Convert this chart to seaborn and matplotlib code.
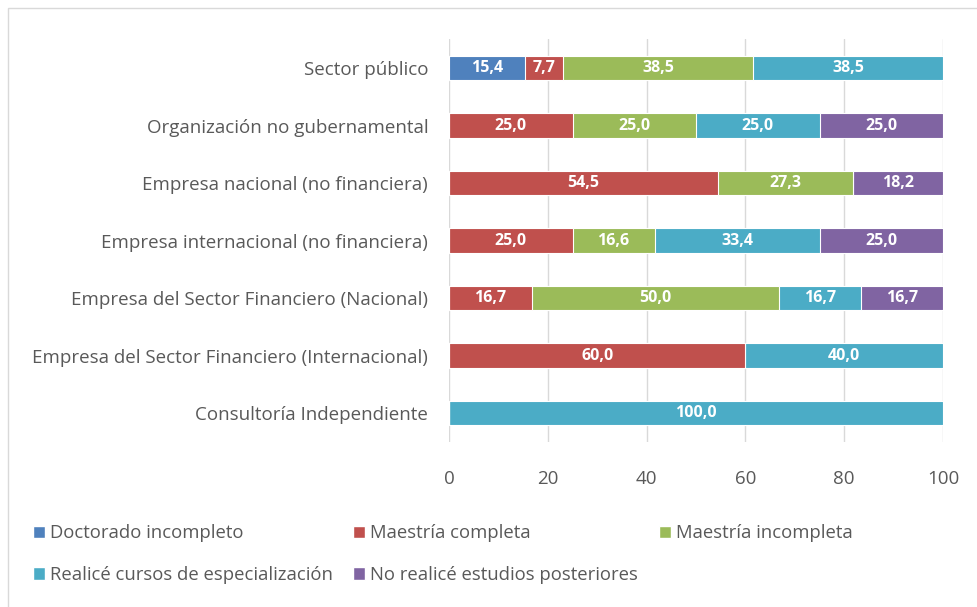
import numpy as np
import pandas as pd
import matplotlib.pyplot as plt
import seaborn as sns
from matplotlib.patches import Patch, Rectangle

categorias = [
    "Sector público",
    "Organización no gubernamental",
    "Empresa nacional (no financiera)",
    "Empresa internacional (no financiera)",
    "Empresa del Sector Financiero (Nacional)",
    "Empresa del Sector Financiero (Internacional)",
    "Consultoría Independiente",
]
series = [
    "Doctorado incompleto",
    "Maestría completa",
    "Maestría incompleta",
    "Realicé cursos de especialización",
    "No realicé estudios posteriores",
]
doctorado = [15.4, 0, 0, 0, 0, 0, 0]
maestria_completa = [7.7, 25.0, 54.5, 25.0, 16.7, 60.0, 0]
maestria_incompleta = [38.5, 25.0, 27.3, 16.6, 50.0, 0, 0]
cursos = [38.5, 25.0, 0, 33.4, 16.7, 40.0, 100.0]
no_estudios = [0, 25.0, 18.2, 25.0, 16.7, 0, 0]
colores = ["#4F81BD", "#C0504D", "#9BBB59", "#4BACC6", "#8064A2"]

valores = np.array([doctorado, maestria_completa, maestria_incompleta, cursos, no_estudios])
acum = np.cumsum(valores, axis=0)

sns.set_style("white")
plt.rcParams["font.family"] = ["Open Sans", "DejaVu Sans"]
gris = "#595959"

fig = plt.figure(figsize=(9.77, 6.07), dpi=100)
ax = fig.add_axes([0.4596, 0.2722, 0.5056, 0.6631])

# barras apiladas: se dibuja de la mayor acumulada a la menor
for i in range(len(series) - 1, -1, -1):
    df = pd.DataFrame({"cat": categorias, "val": acum[i]})
    sns.barplot(data=df, x="val", y="cat", orient="h", color=colores[i],
                saturation=1, width=0.42, edgecolor="white", linewidth=0.8,
                ax=ax, zorder=3)

for i in range(len(series)):
    for j in range(len(categorias)):
        v = valores[i, j]
        if v > 0:
            centro = acum[i, j] - v / 2
            ax.text(centro, j, f"{v:.1f}".replace(".", ","), ha="center", va="center",
                    color="white", fontsize=11.5, fontweight="bold", zorder=4)

ax.set_xlim(0, 100)
ax.set_ylim(6.5, -0.5)
ax.set_xticks([0, 20, 40, 60, 80, 100])
ax.set_xlabel("")
ax.set_ylabel("")
ax.grid(axis="x", color="#d9d9d9", linewidth=1, zorder=0)
for s in ax.spines.values():
    s.set_visible(False)
ax.tick_params(axis="both", length=0, colors=gris, labelsize=13.5)
ax.tick_params(axis="x", pad=20)
ax.tick_params(axis="y", pad=15)

orden = [0, 3, 1, 4, 2]
handles = [Patch(facecolor=colores[k], label=series[k]) for k in orden]
fig.legend(handles=handles, ncol=3, loc="upper left", bbox_to_anchor=(0.0338, 0.136),
           frameon=False, fontsize=13.3, labelcolor=gris, handlelength=0.65,
           handleheight=0.65, handletextpad=0.27, columnspacing=1.1, labelspacing=1.27,
           borderpad=0, borderaxespad=0)

fig.patches.append(Rectangle((8 / 977, -0.1), 1.2, 1 - 8 / 607 + 0.1,
                             transform=fig.transFigure, fill=False,
                             edgecolor="#d9d9d9", linewidth=1))

fig.savefig("out.png", dpi=100)
